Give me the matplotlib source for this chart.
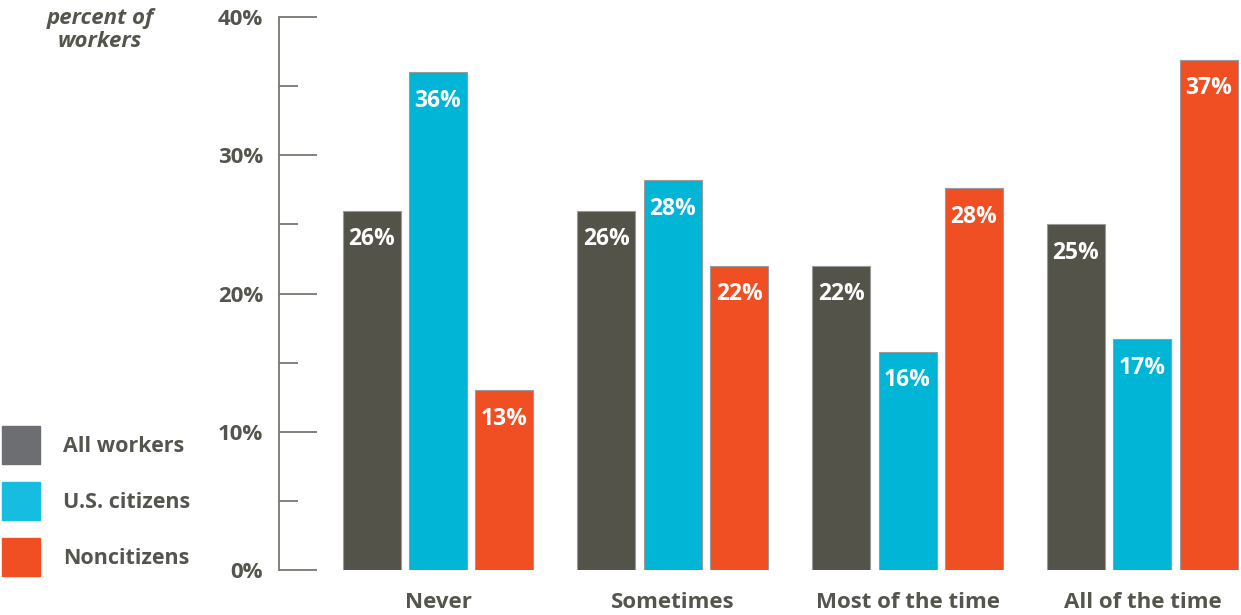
import numpy as np
import matplotlib.pyplot as plt

categories = ["Never", "Sometimes", "Most of the time", "All of the time"]
series = ["All workers", "U.S. citizens", "Noncitizens"]
all_workers = [26.0, 26.0, 22.0, 25.0]
us_citizens = [36.0, 28.2, 15.8, 16.7]
noncitizens = [13.0, 22.0, 27.6, 36.9]
labels = [["26%", "26%", "22%", "25%"],
          ["36%", "28%", "16%", "17%"],
          ["13%", "22%", "28%", "37%"]]
yticks = [0, 10, 20, 30, 40]

bar_colors = ["#54534a", "#00b5d6", "#f04e23"]
legend_colors = ["#6d6e71", "#17bde0", "#f04e23"]
text_color = "#55554d"

plt.rcParams['font.family'] = ['Open Sans', 'DejaVu Sans']

fig = plt.figure(figsize=(12.41, 6.15), dpi=100)
ax = fig.add_axes([279 / 1241, 45 / 615, 1 - 279 / 1241, 553 / 615])

x = np.arange(len(categories))
width = 0.247
step = 0.283
for i, vals in enumerate([all_workers, us_citizens, noncitizens]):
    pos = x + (i - 1) * step
    bars = ax.bar(pos, vals, width, color=bar_colors[i], edgecolor="#9a9a9a",
                  linewidth=0.8)
    for b, lab in zip(bars, labels[i]):
        ax.annotate(lab, (b.get_x() + b.get_width() / 2, b.get_height()),
                    xytext=(0, -20.5), textcoords="offset points",
                    ha="center", va="center", color="white",
                    fontsize=16.5, fontweight="bold")

ax.set_xlim(-0.677, 3.42)
ax.set_ylim(0, 40)
for s in ["top", "right", "bottom"]:
    ax.spines[s].set_visible(False)
ax.spines["left"].set_color("#77776f")
ax.spines["left"].set_linewidth(1.3)

ax.set_yticks(yticks)
ax.set_yticklabels([f"{t}%" for t in yticks])
ax.set_yticks([5, 15, 25, 35], minor=True)
ax.tick_params(axis="y", which="major", direction="in", length=27.4, width=1.3,
               color="#77776f", pad=11.5, labelsize=16, labelcolor=text_color)
ax.tick_params(axis="y", which="minor", direction="in", length=13.7, width=1.3,
               color="#77776f")
for t in ax.get_yticklabels():
    t.set_fontweight("bold")

ax.set_xticks(x)
ax.set_xticklabels(categories)
ax.tick_params(axis="x", length=0, pad=16, labelsize=16, labelcolor=text_color)
for t in ax.get_xticklabels():
    t.set_fontweight("bold")

fig.text(100 / 1241, 1 - 30 / 615, "percent of\nworkers", ha="center", va="center",
         fontsize=16, fontweight="bold", fontstyle="italic", color=text_color,
         linespacing=1.1)

# legend drawn by hand at the lower left
for i, name in enumerate(series):
    yc = 445 + i * 56
    fig.patches.append(plt.Rectangle((2 / 1241, 1 - (yc + 19) / 615), 38 / 1241,
                                     38 / 615, transform=fig.transFigure,
                                     color=legend_colors[i]))
    fig.text(63 / 1241, 1 - (yc + 1) / 615, name, ha="left", va="center",
             fontsize=15.5, fontweight="bold", color=text_color)

fig.savefig("out.png", dpi=100)
